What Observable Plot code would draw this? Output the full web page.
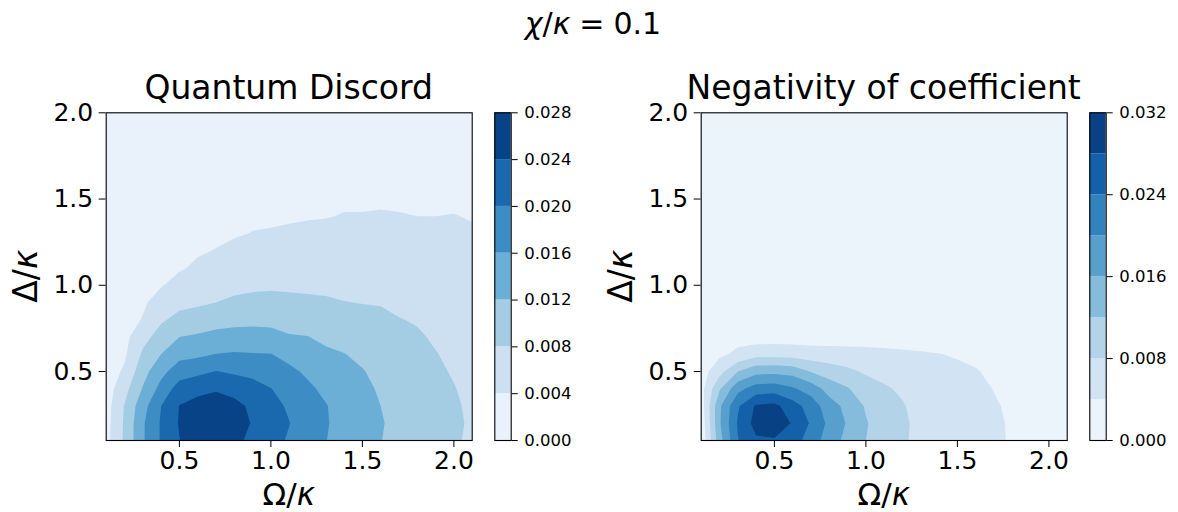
<!DOCTYPE html>
<html><head><meta charset="utf-8">
<script src="https://cdn.jsdelivr.net/npm/d3@7"></script>
<script src="https://cdn.jsdelivr.net/npm/@observablehq/plot@0.6"></script>
<style>
html,body{margin:0;padding:0;background:#fff;}
#fig{position:relative;width:1178px;height:512px;overflow:hidden;}
#fig svg{position:absolute;top:0;}
</style></head><body><div id="fig"></div>
<script>
// ---- grid coordinates (Ω/κ columns, Δ/κ rows) ----
const omega = [0.1,0.2,0.3,0.4,0.5,0.6,0.7,0.8,0.9,1.0,1.1,1.2,1.3,1.4,1.5,1.6,1.7,1.8,1.9,2.0,2.1];
const delta = [0.1,0.2,0.3,0.4,0.5,0.6,0.7,0.8,0.9,1.0,1.1,1.2,1.3,1.4,1.5,1.6,1.7,1.8,1.9,2.0];

// ---- Quantum Discord, one row per Δ/κ value ----
const discordRows = [
[0.0027,0.0086,0.0155,0.0204,0.0239,0.0260,0.0265,0.0256,0.0224,0.0212,0.0196,0.0176,0.0161,0.0145,0.0131,0.0121,0.0108,0.0099,0.0091,0.0083,0.0076],
[0.0026,0.0085,0.0155,0.0204,0.0243,0.0265,0.0270,0.0266,0.0236,0.0218,0.0201,0.0178,0.0163,0.0147,0.0133,0.0123,0.0109,0.0100,0.0092,0.0084,0.0077],
[0.0024,0.0082,0.0145,0.0200,0.0241,0.0255,0.0259,0.0252,0.0232,0.0212,0.0195,0.0175,0.0162,0.0145,0.0132,0.0120,0.0107,0.0098,0.0090,0.0083,0.0076],
[0.0021,0.0066,0.0123,0.0173,0.0218,0.0228,0.0236,0.0225,0.0215,0.0201,0.0183,0.0167,0.0152,0.0140,0.0128,0.0116,0.0104,0.0095,0.0088,0.0081,0.0074],
[0.0018,0.0046,0.0105,0.0149,0.0180,0.0191,0.0201,0.0195,0.0189,0.0181,0.0168,0.0154,0.0139,0.0131,0.0122,0.0110,0.0099,0.0091,0.0084,0.0078,0.0072],
[0.0016,0.0034,0.0086,0.0120,0.0148,0.0152,0.0161,0.0164,0.0162,0.0161,0.0148,0.0136,0.0126,0.0121,0.0112,0.0103,0.0093,0.0087,0.0081,0.0075,0.0069],
[0.0015,0.0029,0.0068,0.0095,0.0120,0.0125,0.0131,0.0133,0.0134,0.0132,0.0123,0.0121,0.0113,0.0106,0.0101,0.0095,0.0087,0.0083,0.0077,0.0071,0.0066],
[0.0014,0.0026,0.0042,0.0075,0.0091,0.0099,0.0106,0.0110,0.0111,0.0110,0.0106,0.0103,0.0099,0.0093,0.0090,0.0087,0.0081,0.0078,0.0072,0.0067,0.0062],
[0.0013,0.0024,0.0035,0.0054,0.0070,0.0074,0.0080,0.0086,0.0089,0.0091,0.0089,0.0087,0.0085,0.0081,0.0079,0.0078,0.0074,0.0071,0.0067,0.0062,0.0058],
[0.0013,0.0022,0.0031,0.0038,0.0051,0.0058,0.0066,0.0071,0.0074,0.0075,0.0074,0.0073,0.0072,0.0069,0.0068,0.0068,0.0066,0.0064,0.0061,0.0057,0.0054],
[0.0012,0.0021,0.0028,0.0033,0.0037,0.0045,0.0053,0.0060,0.0063,0.0064,0.0064,0.0063,0.0062,0.0060,0.0059,0.0059,0.0058,0.0057,0.0055,0.0052,0.0050],
[0.0012,0.0020,0.0026,0.0030,0.0033,0.0037,0.0041,0.0048,0.0052,0.0054,0.0055,0.0055,0.0055,0.0053,0.0052,0.0052,0.0051,0.0050,0.0049,0.0047,0.0046],
[0.0012,0.0019,0.0024,0.0028,0.0030,0.0033,0.0035,0.0037,0.0041,0.0042,0.0044,0.0046,0.0047,0.0046,0.0045,0.0046,0.0045,0.0045,0.0044,0.0043,0.0042],
[0.0011,0.0018,0.0022,0.0026,0.0028,0.0031,0.0032,0.0033,0.0035,0.0036,0.0037,0.0038,0.0039,0.0041,0.0041,0.0042,0.0041,0.0040,0.0040,0.00405,0.0039],
[0.0011,0.0017,0.0021,0.0024,0.0026,0.0029,0.0030,0.0031,0.0033,0.0034,0.0035,0.0036,0.0037,0.0037,0.0037,0.0037,0.0037,0.0037,0.0037,0.0037,0.0037],
[0.0011,0.0016,0.0020,0.0023,0.0025,0.0027,0.0028,0.0030,0.0032,0.0033,0.0034,0.0035,0.0036,0.0036,0.0036,0.0035,0.0035,0.0035,0.0035,0.0035,0.0035],
[0.0011,0.0016,0.0019,0.0022,0.0024,0.0026,0.0027,0.0029,0.0031,0.0032,0.0033,0.0034,0.0035,0.0035,0.0035,0.0034,0.0034,0.0034,0.0034,0.0034,0.0034],
[0.0010,0.0015,0.0018,0.0021,0.0023,0.0025,0.0026,0.0028,0.0030,0.0031,0.0032,0.0033,0.0034,0.0034,0.0034,0.0033,0.0033,0.0033,0.0033,0.0033,0.0033],
[0.0010,0.0015,0.0017,0.0020,0.0022,0.0024,0.0025,0.0027,0.0029,0.0030,0.0031,0.0032,0.0033,0.0033,0.0033,0.0032,0.0032,0.0032,0.0032,0.0032,0.0032],
[0.0010,0.0014,0.0016,0.0019,0.0021,0.0023,0.0024,0.0026,0.0028,0.0029,0.0030,0.0031,0.0032,0.0032,0.0032,0.0031,0.0031,0.0031,0.0031,0.0031,0.0031]
];

// ---- Negativity of coefficient, one row per Δ/κ value ----
const negativityRows = [
[0.0005,0.0145,0.0238,0.0274,0.0275,0.0258,0.0222,0.0180,0.0148,0.0120,0.0099,0.0086,0.0068,0.0062,0.0058,0.0053,0.0047,0.0036,0.0031,0.0028,0.0025],
[0.0012,0.0155,0.0244,0.0295,0.0308,0.0276,0.0235,0.0190,0.0156,0.0123,0.0101,0.0087,0.0069,0.0063,0.0058,0.0053,0.0046,0.0036,0.0031,0.0028,0.0025],
[0.0020,0.0153,0.0235,0.0285,0.0290,0.0258,0.0222,0.0178,0.0148,0.0116,0.0096,0.0083,0.0067,0.0061,0.0056,0.0051,0.0043,0.0035,0.0030,0.0027,0.0024],
[0.0026,0.0115,0.0188,0.0218,0.0222,0.0205,0.0183,0.0144,0.0123,0.0098,0.0085,0.0074,0.0062,0.0057,0.0053,0.0048,0.0039,0.0033,0.0029,0.0026,0.0023],
[0.0022,0.0066,0.0120,0.0148,0.0150,0.0145,0.0118,0.0100,0.0088,0.0075,0.0068,0.0061,0.0054,0.0050,0.0047,0.0042,0.0034,0.0030,0.0027,0.0024,0.0022],
[0.0016,0.0033,0.0048,0.0066,0.0066,0.0064,0.0058,0.0057,0.0055,0.0053,0.0050,0.0047,0.0044,0.0041,0.0037,0.0033,0.0028,0.0025,0.0023,0.0021,0.0019],
[0.0012,0.0022,0.0028,0.0021,0.0022,0.0022,0.0022,0.0022,0.0022,0.0022,0.0022,0.0022,0.0021,0.0020,0.0020,0.0019,0.0018,0.0018,0.0017,0.0016,0.0015],
[0.0011,0.0018,0.0024,0.0019,0.0020,0.0020,0.0021,0.0021,0.0021,0.0021,0.0021,0.0020,0.0020,0.0019,0.0019,0.0018,0.0018,0.0017,0.0016,0.0016,0.0015],
[0.0010,0.0016,0.0022,0.0018,0.0019,0.0019,0.0020,0.0020,0.0020,0.0020,0.0020,0.0020,0.0019,0.0019,0.0018,0.0018,0.0017,0.0017,0.0016,0.0015,0.0015],
[0.0010,0.0015,0.0020,0.0017,0.0018,0.0018,0.0019,0.0019,0.0019,0.0019,0.0019,0.0019,0.0019,0.0018,0.0018,0.0017,0.0017,0.0016,0.0016,0.0015,0.0014],
[0.0009,0.0014,0.0019,0.0016,0.0017,0.0018,0.0018,0.0019,0.0019,0.0019,0.0019,0.0018,0.0018,0.0018,0.0017,0.0017,0.0016,0.0016,0.0015,0.0015,0.0014],
[0.0009,0.0013,0.0018,0.0016,0.0017,0.0017,0.0018,0.0018,0.0018,0.0018,0.0018,0.0018,0.0018,0.0017,0.0017,0.0016,0.0016,0.0015,0.0015,0.0014,0.0014],
[0.0009,0.0013,0.0017,0.0015,0.0016,0.0017,0.0017,0.0018,0.0018,0.0018,0.0018,0.0018,0.0017,0.0017,0.0017,0.0016,0.0016,0.0015,0.0015,0.0014,0.0014],
[0.0008,0.0012,0.0016,0.0015,0.0016,0.0016,0.0017,0.0017,0.0018,0.0018,0.0018,0.0017,0.0017,0.0017,0.0016,0.0016,0.0015,0.0015,0.0014,0.0014,0.0013],
[0.0008,0.0012,0.0016,0.0015,0.0016,0.0016,0.0017,0.0017,0.0017,0.0017,0.0017,0.0017,0.0017,0.0016,0.0016,0.0016,0.0015,0.0015,0.0014,0.0014,0.0013],
[0.0008,0.0012,0.0015,0.0014,0.0015,0.0016,0.0016,0.0017,0.0017,0.0017,0.0017,0.0017,0.0017,0.0016,0.0016,0.0015,0.0015,0.0014,0.0014,0.0013,0.0013],
[0.0008,0.0011,0.0015,0.0014,0.0015,0.0016,0.0016,0.0016,0.0017,0.0017,0.0017,0.0016,0.0016,0.0016,0.0016,0.0015,0.0015,0.0014,0.0014,0.0013,0.0013],
[0.0008,0.0011,0.0015,0.0014,0.0015,0.0015,0.0016,0.0016,0.0016,0.0016,0.0016,0.0016,0.0016,0.0016,0.0015,0.0015,0.0014,0.0014,0.0014,0.0013,0.0013],
[0.0007,0.0011,0.0014,0.0014,0.0015,0.0015,0.0016,0.0016,0.0016,0.0016,0.0016,0.0016,0.0016,0.0015,0.0015,0.0015,0.0014,0.0014,0.0013,0.0013,0.0012],
[0.0007,0.0011,0.0014,0.0013,0.0014,0.0015,0.0015,0.0016,0.0016,0.0016,0.0016,0.0016,0.0016,0.0015,0.0015,0.0014,0.0014,0.0014,0.0013,0.0013,0.0012]
];

// ---- contour levels and tick labels ----
const discordLevels = [0, 0.004, 0.008, 0.012, 0.016, 0.020, 0.024, 0.028];
const negativityLevels = [0, 0.004, 0.008, 0.012, 0.016, 0.020, 0.024, 0.028, 0.032];
const discordBarTicks = [0, 0.004, 0.008, 0.012, 0.016, 0.020, 0.024, 0.028];
const negativityBarTicks = [0, 0.008, 0.016, 0.024, 0.032];
const omegaTicks = [0.5, 1.0, 1.5, 2.0];
const deltaTicks = [0.5, 1.0, 1.5, 2.0];
const titles = ["Quantum Discord", "Negativity of coefficient"];

// ---- styling ----
const FONT = '"DejaVu Sans", sans-serif';
const bluesCmap = d3.piecewise(d3.interpolateRgb, ["#f7fbff","#deebf7","#c6dbef","#9ecae1","#6baed6","#4292c6","#2171b5","#08519c","#08306b"]);
const bandColors = levels => d3.range(levels.length - 1).map(i => bluesCmap((i + 0.5) / (levels.length - 1)));
const colorScale = levels => ({type: "threshold", domain: levels.slice(1, -1), range: bandColors(levels)});

const fig = document.getElementById("fig");
const H = 512, MT = 112.3, MB = 72;

function contourPanel(rows, levels, title, left) {
  const W = 480;
  const dx = omega[1] - omega[0], dy = delta[1] - delta[0];
  const svg = Plot.plot({
    width: W, height: H,
    marginLeft: 105.7, marginRight: 8.3, marginTop: MT, marginBottom: MB,
    style: {fontFamily: FONT, fontSize: "25px", color: "black", background: "transparent", overflow: "visible"},
    x: {domain: [omega[0], omega[omega.length - 1]], ticks: omegaTicks, tickFormat: d3.format(".1f"), tickSize: 7, tickPadding: 4, label: null},
    y: {domain: [delta[0], delta[delta.length - 1]], ticks: deltaTicks, tickFormat: d3.format(".1f"), tickSize: 7, tickPadding: 6, label: null},
    color: colorScale(levels),
    marks: [
      Plot.contour(rows.flat(), {
        x1: omega[0] - dx / 2, x2: omega[omega.length - 1] + dx / 2,
        y1: delta[0] - dy / 2, y2: delta[delta.length - 1] + dy / 2,
        width: omega.length, height: delta.length,
        fill: Plot.identity, thresholds: levels.slice(0, -1), clip: true
      }),
      Plot.frame({stroke: "black", strokeWidth: 1.1})
    ]
  });
  svg.style.left = left + "px";
  const sx = svg.scale("x"), sy = svg.scale("y");
  const cx = (sx.range[0] + sx.range[1]) / 2;
  const cy = (sy.range[0] + sy.range[1]) / 2;
  const top = Math.min(...sy.range), bottom = Math.max(...sy.range), x0 = Math.min(...sx.range);
  const g = d3.select(svg).append("g").attr("font-family", FONT).attr("fill", "black");
  g.append("text").attr("x", cx).attr("y", top - 13.5).attr("text-anchor", "middle").attr("font-size", 33).text(title);
  const xl = g.append("text").attr("x", cx).attr("y", bottom + 64.5).attr("text-anchor", "middle").attr("font-size", 31);
  xl.append("tspan").text("Ω/");
  xl.append("tspan").attr("font-style", "italic").text("κ");
  const yl = g.append("text").attr("transform", `translate(${x0 - 69},${cy}) rotate(-90)`).attr("text-anchor", "middle").attr("font-size", 33);
  yl.append("tspan").text("Δ/");
  yl.append("tspan").attr("font-style", "italic").text("κ");
  fig.appendChild(svg);
}

function colorbar(levels, ticks, left) {
  const W = 100;
  const svg = Plot.plot({
    width: W, height: H,
    marginLeft: 14.3, marginRight: W - 30.7, marginTop: MT, marginBottom: MB,
    style: {fontFamily: FONT, fontSize: "16.5px", color: "black", background: "transparent", overflow: "visible"},
    x: {domain: [0, 1], axis: null},
    y: {domain: [levels[0], levels[levels.length - 1]], ticks, tickFormat: d3.format(".3f"), axis: "right", tickSize: 6, tickPadding: 7, label: null},
    color: colorScale(levels),
    marks: [
      Plot.rect(levels.slice(0, -1), {x1: 0, x2: 1, y1: d => d, y2: (d, i) => levels[i + 1], fill: d => d}),
      Plot.frame({stroke: "black", strokeWidth: 1.1})
    ]
  });
  svg.style.left = left + "px";
  fig.appendChild(svg);
}

contourPanel(discordRows, discordLevels, titles[0], 0);
colorbar(discordLevels, discordBarTicks, 480);
contourPanel(negativityRows, negativityLevels, titles[1], 595);
colorbar(negativityLevels, negativityBarTicks, 1075);

// suptitle
const sup = d3.select(fig).append("svg").attr("width", 1178).attr("height", 60).style("left", "0px").style("overflow", "visible");
const st = sup.append("text").attr("x", 593).attr("y", 34).attr("text-anchor", "middle").attr("font-family", FONT).attr("font-size", 30).attr("fill", "black");
st.append("tspan").attr("font-style", "italic").text("χ");
st.append("tspan").text("/");
st.append("tspan").attr("font-style", "italic").text("κ");
st.append("tspan").attr("dx", "0.3em").text("=");
st.append("tspan").attr("dx", "0.3em").text("0.1");
</script>
</body></html>
